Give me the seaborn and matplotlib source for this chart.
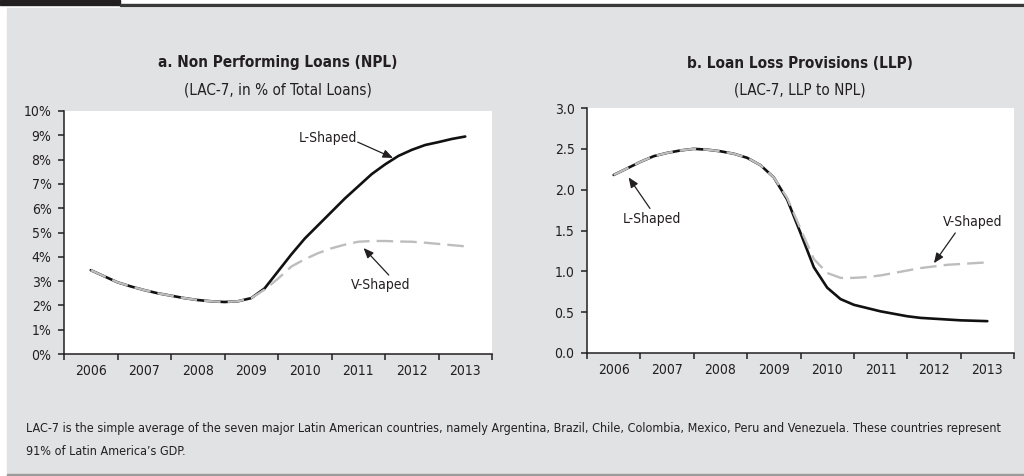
import numpy as np
import pandas as pd
import matplotlib
matplotlib.use("Agg")
import matplotlib.pyplot as plt
from matplotlib.patches import Rectangle
from matplotlib.ticker import FuncFormatter, FixedLocator
import seaborn as sns

# quarterly readings, 2006Q1 .. 2013Q1
quarters = [2006.00, 2006.25, 2006.50, 2006.75, 2007.00, 2007.25, 2007.50, 2007.75,
            2008.00, 2008.25, 2008.50, 2008.75, 2009.00, 2009.25, 2009.50, 2009.75,
            2010.00, 2010.25, 2010.50, 2010.75, 2011.00, 2011.25, 2011.50, 2011.75,
            2012.00, 2012.25, 2012.50, 2012.75, 2013.00]
years = ["2006", "2007", "2008", "2009", "2010", "2011", "2012", "2013"]

npl_l = [3.45, 3.20, 2.95, 2.78, 2.63, 2.50, 2.40, 2.30,
         2.22, 2.17, 2.14, 2.17, 2.30, 2.70, 3.40, 4.10,
         4.75, 5.30, 5.85, 6.40, 6.90, 7.40, 7.80, 8.15,
         8.40, 8.60, 8.72, 8.85, 8.95]
npl_v = [3.45, 3.20, 2.95, 2.78, 2.63, 2.50, 2.40, 2.30,
         2.22, 2.17, 2.14, 2.17, 2.30, 2.65, 3.10, 3.60,
         3.90, 4.15, 4.35, 4.50, 4.62, 4.65, 4.65, 4.63,
         4.62, 4.58, 4.53, 4.48, 4.43]

llp_l = [2.18, 2.26, 2.34, 2.41, 2.45, 2.48, 2.50, 2.49,
         2.47, 2.44, 2.39, 2.30, 2.15, 1.88, 1.47, 1.05,
         0.80, 0.66, 0.59, 0.55, 0.51, 0.48, 0.45, 0.43,
         0.42, 0.41, 0.40, 0.395, 0.39]
llp_v = [2.18, 2.26, 2.34, 2.41, 2.45, 2.48, 2.50, 2.49,
         2.47, 2.44, 2.39, 2.30, 2.15, 1.90, 1.52, 1.15,
         0.98, 0.92, 0.92, 0.93, 0.95, 0.98, 1.01, 1.04,
         1.06, 1.08, 1.09, 1.10, 1.11]

footnote = ("LAC-7 is the simple average of the seven major Latin American countries, namely Argentina, "
            "Brazil, Chile, Colombia, Mexico, Peru and Venezuela. These countries represent\n"
            "91% of Latin America\u2019s GDP.")

sns.set_style("white")
plt.rcParams['font.family'] = ['DejaVu Sans']
plt.rcParams['font.stretch'] = 'condensed'
plt.rcParams['text.color'] = '#231f20'

fig = plt.figure(figsize=(10.24, 4.76), dpi=100)
fig.patch.set_facecolor("white")
W, H = 1024.0, 476.0

# frame: black tab, top rule, grey panel, bottom rule
for xy, w, h, c in [((0, 1 - 5 / H), 120 / W, 5 / H, "#231f20"),
                    ((120 / W, 1 - 6 / H), 1, 2 / H, "#3a3a3a"),
                    ((7 / W, 2 / H), 1, (475 - 9) / H, "#e1e2e4"),
                    ((7 / W, 0), 1, 2 / H, "#9b9b9b")]:
    fig.patches.append(Rectangle(xy, w, h, transform=fig.transFigure, color=c, zorder=-5))

ax1 = fig.add_axes([64 / W, 1 - 354 / H, 428 / W, 243 / H])
ax2 = fig.add_axes([587 / W, 1 - 353 / H, 427 / W, 245 / H])

df_npl = pd.DataFrame({"t": quarters, "L": npl_l, "V": npl_v})
df_llp = pd.DataFrame({"t": quarters, "L": llp_l, "V": llp_v})

for ax, df in [(ax1, df_npl), (ax2, df_llp)]:
    sns.lineplot(data=df, x="t", y="L", ax=ax, color="#111111", linewidth=1.9)
    sns.lineplot(data=df, x="t", y="V", ax=ax, color="#bdbdbd", linewidth=1.7,
                 linestyle=(0, (7, 3)))
    ax.set_facecolor("white")
    ax.set_xlim(2005.5, 2013.5)
    ax.set_xlabel("")
    ax.set_ylabel("")
    for s in ["top", "right"]:
        ax.spines[s].set_visible(False)
    for s in ["left", "bottom"]:
        ax.spines[s].set_color("#231f20")
        ax.spines[s].set_linewidth(1.1)
    ax.xaxis.set_major_locator(FixedLocator(np.arange(2005.5, 2014, 1.0)))
    ax.xaxis.set_major_formatter(FuncFormatter(lambda v, p: ""))
    ax.xaxis.set_minor_locator(FixedLocator(np.arange(2006, 2014, 1.0)))
    ax.set_xticklabels(years, minor=True)
    ax.tick_params(axis="x", which="major", direction="out", length=4, width=1.1,
                   color="#231f20", bottom=True)
    ax.tick_params(axis="x", which="minor", length=0, pad=7, labelsize=10,
                   labelcolor="#231f20")
    ax.tick_params(axis="y", direction="out", length=4, width=1.1, color="#231f20",
                   left=True, pad=5, labelsize=10, labelcolor="#231f20")

ax1.set_ylim(0, 10)
ax1.set_yticks(range(0, 11))
ax1.yaxis.set_major_formatter(FuncFormatter(lambda v, p: f"{v:.0f}%"))
ax2.set_ylim(0, 3)
ax2.set_yticks(np.arange(0, 3.01, 0.5))
ax2.yaxis.set_major_formatter(FuncFormatter(lambda v, p: f"{v:.1f}"))

# titles
fig.text(278 / W, 1 - 63 / H, "a. Non Performing Loans (NPL)", ha="center", va="center",
         fontsize=11, fontweight="bold")
fig.text(278 / W, 1 - 90 / H, "(LAC-7, in % of Total Loans)", ha="center", va="center",
         fontsize=11)
fig.text(800 / W, 1 - 63 / H, "b. Loan Loss Provisions (LLP)", ha="center", va="center",
         fontsize=11, fontweight="bold")
fig.text(800 / W, 1 - 90 / H, "(LAC-7, LLP to NPL)", ha="center", va="center",
         fontsize=11)

arrow = dict(arrowstyle="-|>,head_length=0.6,head_width=0.25", color="#231f20", lw=0.9,
             shrinkA=0, shrinkB=0)
# left panel labels
ax1.text(2010.43, 8.9, "L-Shaped", ha="center", va="center", fontsize=10)
ax1.annotate("", xy=(2011.65, 8.07), xytext=(2010.99, 8.72), arrowprops=arrow)
ax1.text(2011.42, 2.85, "V-Shaped", ha="center", va="center", fontsize=10)
ax1.annotate("", xy=(2011.1, 4.36), xytext=(2011.57, 3.25), arrowprops=arrow)
# right panel labels
ax2.text(2006.71, 1.64, "L-Shaped", ha="center", va="center", fontsize=10)
ax2.annotate("", xy=(2006.28, 2.15), xytext=(2006.68, 1.77), arrowprops=arrow)
ax2.text(2012.72, 1.60, "V-Shaped", ha="center", va="center", fontsize=10)
ax2.annotate("", xy=(2012.0, 1.10), xytext=(2012.4, 1.47), arrowprops=arrow)

fig.text(26 / W, 1 - 440 / H, footnote, ha="left", va="center", fontsize=9.0,
         linespacing=2.0)

fig.savefig("out.png", dpi=100)
